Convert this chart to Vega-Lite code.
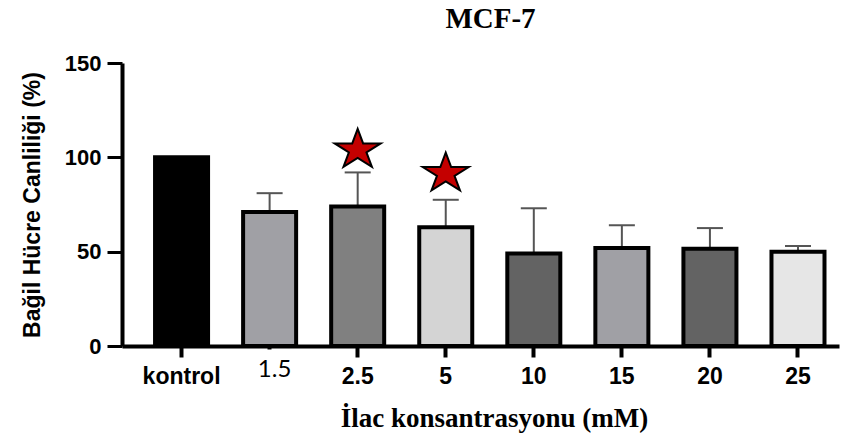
{
  "$schema": "https://vega.github.io/schema/vega-lite/v6.json",
  "width": 717,
  "height": 283,
  "autosize": {"type": "none"},
  "padding": {"left": 122, "top": 63, "right": 14, "bottom": 97},
  "background": "white",
  "config": {"view": {"stroke": null}},
  "title": {
    "text": "MCF-7",
    "font": "Liberation Serif",
    "fontSize": 29,
    "fontWeight": "bold",
    "color": "#000000",
    "anchor": "middle",
    "frame": "group",
    "baseline": "alphabetic",
    "dx": 10,
    "dy": 32,
    "offset": 27
  },
  "datasets": {
    "bars": [
      {"dose": "kontrol", "mean": 100, "upper": null},
      {"dose": "1.5", "mean": 71, "upper": 81},
      {"dose": "2.5", "mean": 74, "upper": 92},
      {"dose": "5", "mean": 63, "upper": 77.5},
      {"dose": "10", "mean": 49, "upper": 73},
      {"dose": "15", "mean": 52, "upper": 64},
      {"dose": "20", "mean": 51.5, "upper": 62.5},
      {"dose": "25", "mean": 50, "upper": 53}
    ],
    "stars": [
      {"dose": "2.5", "level": 105},
      {"dose": "5", "level": 92.5}
    ]
  },
  "data": {"name": "bars"},
  "encoding": {
    "x": {
      "field": "dose",
      "type": "nominal",
      "sort": null,
      "scale": {
        "domain": ["kontrol", "1.5", "2.5", "5", "10", "15", "20", "25"],
        "paddingInner": 0.398,
        "paddingOuter": 0.27,
        "align": 0.695
      },
      "axis": {
        "labelAngle": 0,
        "domainColor": "#000000",
        "domainWidth": 4,
        "tickColor": "#000000",
        "tickWidth": 4,
        "tickSize": {"condition": {"test": "datum.value === '1.5'", "value": 3}, "value": 11},
        "labelColor": "#000000",
        "labelFont": {"condition": {"test": "datum.value === '1.5'", "value": "Lato"}, "value": "Liberation Sans"},
        "labelFontWeight": {"condition": {"test": "datum.value === '1.5'", "value": "normal"}, "value": "bold"},
        "labelFontSize": {"condition": {"test": "datum.value === '1.5'", "value": 24}, "value": 23},
        "labelOffset": {"condition": {"test": "datum.value === '1.5'", "value": 5}, "value": 0},
        "labelPadding": 8,
        "title": "İlac konsantrasyonu (mM)",
        "titleFont": "Liberation Serif",
        "titleFontSize": 27,
        "titleFontWeight": "bold",
        "titleColor": "#000000",
        "titleX": 372,
        "titleY": 80,
        "titleBaseline": "alphabetic",
        "titleAnchor": "middle"
      }
    }
  },
  "layer": [
    {
      "transform": [{"filter": "datum.upper != null"}],
      "mark": {"type": "rule", "color": "#555555", "strokeWidth": 2},
      "encoding": {
        "y": {"field": "mean", "type": "quantitative"},
        "y2": {"field": "upper"}
      }
    },
    {
      "transform": [{"filter": "datum.upper != null"}],
      "mark": {"type": "tick", "color": "#555555", "thickness": 2, "size": 26, "orient": "horizontal", "opacity": 1},
      "encoding": {
        "y": {"field": "upper", "type": "quantitative"}
      }
    },
    {
      "mark": {"type": "bar", "stroke": "#000000", "strokeWidth": 4},
      "encoding": {
        "y": {
          "field": "mean",
          "type": "quantitative",
          "scale": {"domain": [0, 150], "nice": false},
          "axis": {
            "values": [0, 50, 100, 150],
            "grid": false,
            "domainColor": "#000000",
            "domainWidth": 4,
            "tickColor": "#000000",
            "tickWidth": 3,
            "tickSize": 15,
            "labelColor": "#000000",
            "labelFont": "Liberation Sans",
            "labelFontWeight": "bold",
            "labelFontSize": 22,
            "labelPadding": 6,
            "title": "Bağil Hücre Canliliği (%)",
            "titleFont": "Liberation Sans",
            "titleFontSize": 23,
            "titleFontWeight": "bold",
            "titleColor": "#000000",
            "titleAngle": 270,
            "titleX": -90,
            "titleY": 141.5,
            "titleBaseline": "middle",
            "titleAnchor": "middle"
          }
        },
        "color": {
          "field": "dose",
          "type": "nominal",
          "sort": null,
          "scale": {
            "domain": ["kontrol", "1.5", "2.5", "5", "10", "15", "20", "25"],
            "range": ["#000000", "#a0a0a5", "#808080", "#d4d4d4", "#636363", "#a0a0a5", "#636363", "#e6e6e6"]
          },
          "legend": null
        }
      }
    },
    {
      "data": {"name": "stars"},
      "mark": {
        "type": "point",
        "shape": "M0,-0.823L0.236,-0.194L1,-0.194L0.382,0.194L0.618,0.823L0,0.435L-0.618,0.823L-0.382,0.194L-1,-0.194L-0.236,-0.194Z",
        "filled": true,
        "fill": "#c40000",
        "stroke": "#000000",
        "strokeWidth": 2,
        "size": 2116,
        "opacity": 1
      },
      "encoding": {
        "y": {"field": "level", "type": "quantitative"}
      }
    }
  ]
}
